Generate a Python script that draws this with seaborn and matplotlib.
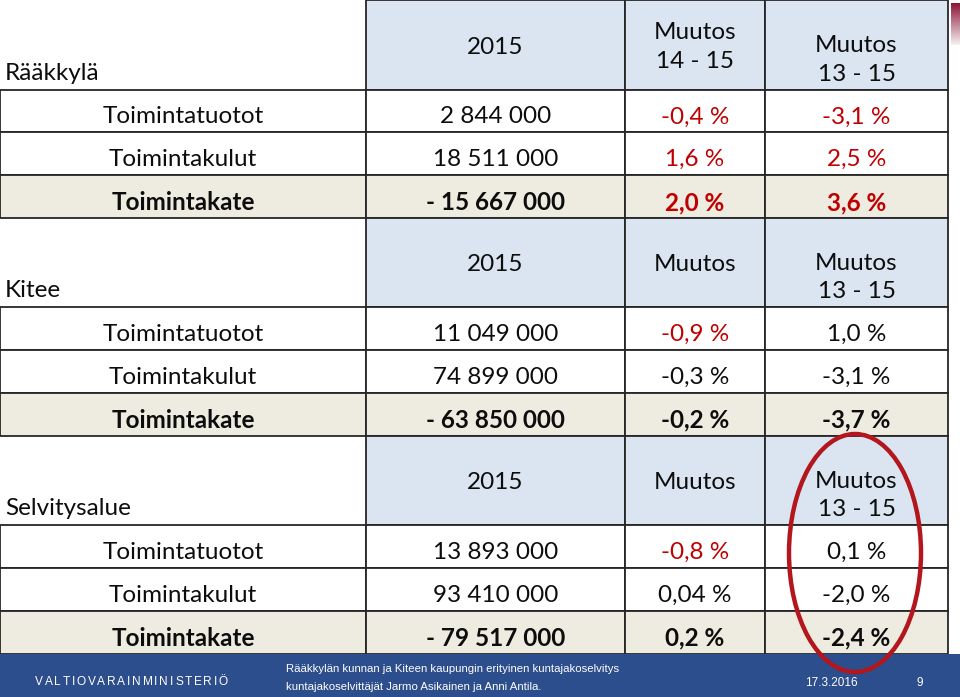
import numpy as np
import matplotlib.pyplot as plt
import seaborn as sns
from matplotlib.patches import Rectangle, Ellipse

# taulukon sisältö
sections = ["Rääkkylä", "Kitee", "Selvitysalue"]
row_labels = ["Toimintatuotot", "Toimintakulut", "Toimintakate"]
headers = [
    ["2015", "Muutos\n14 - 15", "Muutos\n13 - 15"],
    ["2015", "Muutos", "Muutos\n13 - 15"],
    ["2015", "Muutos", "Muutos\n13 - 15"],
]
values_2015 = [
    ["2 844 000", "18 511 000", "- 15 667 000"],
    ["11 049 000", "74 899 000", "- 63 850 000"],
    ["13 893 000", "93 410 000", "- 79 517 000"],
]
change_a = [
    ["-0,4 %", "1,6 %", "2,0 %"],
    ["-0,9 %", "-0,3 %", "-0,2 %"],
    ["-0,8 %", "0,04 %", "0,2 %"],
]
change_b = [
    ["-3,1 %", "2,5 %", "3,6 %"],
    ["1,0 %", "-3,1 %", "-3,7 %"],
    ["0,1 %", "-2,0 %", "-2,4 %"],
]
red_a = [[1, 1, 1], [1, 0, 0], [1, 0, 0]]
red_b = [[1, 1, 1], [0, 0, 0], [0, 0, 0]]

footer_ministry = "VALTIOVARAINMINISTERIÖ"
footer_lines = ["Rääkkylän kunnan ja Kiteen kaupungin erityinen kuntajakoselvitys",
                "kuntajakoselvittäjät Jarmo Asikainen ja Anni Antila."]
footer_date = "17.3.2016"
footer_page = "9"

# asettelu (pikseleinä)
W, H = 960, 697
col_edges = [0, 366, 625, 765, 948]
header_h = 89.5
row_h = 42.8
sec_h = header_h + 3 * row_h

HEAD_BLUE = "#dbe5f1"
BEIGE = "#eeece1"
RED = "#c00000"
INK = "#0d0d0d"
LINE = "#262626"
FOOT = "#2d4e8c"
FOOT_FONT = ['Liberation Sans Narrow', 'Liberation Sans', 'DejaVu Sans']

sns.set_theme(style="white")
plt.rcParams['font.family'] = ['Lato', 'DejaVu Sans']

fig = plt.figure(figsize=(W / 100, H / 100), dpi=100)
ax = fig.add_axes([0, 0, 1, 1])
ax.set_xlim(0, W)
ax.set_ylim(H, 0)
ax.axis('off')

fs = 17.5
lw = 1.3

for s, name in enumerate(sections):
    top = s * sec_h
    # otsikkosolut
    for c in range(3):
        x0, x1 = col_edges[c + 1], col_edges[c + 2]
        ax.add_patch(Rectangle((x0, top), x1 - x0, header_h, facecolor=HEAD_BLUE,
                               edgecolor=LINE, lw=lw, zorder=1))
        yy = top + 60 if c == 2 else top + 47
        ax.text((x0 + x1) / 2, yy, headers[s][c], ha='center', va='center', fontsize=fs,
                linespacing=1.42, color=INK, zorder=3)
    ax.text(5, top + 73, name, ha='left', va='center', fontsize=fs, color=INK, zorder=3)

    # datarivit
    for r, lab in enumerate(row_labels):
        y0 = top + header_h + r * row_h
        face = BEIGE if r == 2 else 'white'
        weight = 'bold' if r == 2 else 'normal'
        for c in range(4):
            x0, x1 = col_edges[c], col_edges[c + 1]
            ax.add_patch(Rectangle((x0, y0), x1 - x0, row_h, facecolor=face,
                                   edgecolor=LINE, lw=lw, zorder=1))
        cells = [lab, values_2015[s][r], change_a[s][r], change_b[s][r]]
        colors = [INK, INK,
                  RED if red_a[s][r] else INK,
                  RED if red_b[s][r] else INK]
        for c in range(4):
            x0, x1 = col_edges[c], col_edges[c + 1]
            ax.text((x0 + x1) / 2, y0 + row_h / 2 + 6, cells[c], ha='center', va='center',
                    fontsize=fs, fontweight=weight, color=colors[c], zorder=3)

# alapalkki
ax.add_patch(Rectangle((0, 654), W, H - 654, facecolor=FOOT, edgecolor='none', zorder=2))

# harvennettu ministeriön nimi: kirjaimet tasaisin välein
renderer = fig.canvas.get_renderer()
letters = []
widths = []
for ch in footer_ministry:
    t = ax.text(0, 682, ch, ha='left', va='center', fontsize=8.6, color='white',
                family=FOOT_FONT, zorder=4)
    widths.append(t.get_window_extent(renderer).width)
    letters.append(t)
gap = (193 - sum(widths)) / (len(letters) - 1)
x = 35
for t, w in zip(letters, widths):
    t.set_x(x)
    x += w + gap

for i, line in enumerate(footer_lines):
    ax.text(286, 669 + i * 18, line, ha='left', va='center', fontsize=8.2, color='white',
            family=FOOT_FONT, zorder=4)
ax.text(805, 683, footer_date, ha='left', va='center', fontsize=8.5, color='white',
        family=FOOT_FONT, zorder=4)
ax.text(920, 683, footer_page, ha='center', va='center', fontsize=8.5, color='white',
        family=FOOT_FONT, zorder=4)

# oikean yläkulman merkki
grad = np.linspace(1, 0, 50).reshape(-1, 1)
ax.imshow(grad, extent=(951, 960, 45, 3), cmap=sns.light_palette("#8e1538", as_cmap=True),
          aspect='auto', zorder=2)

# punainen korostusellipsi
ax.add_patch(Ellipse((855, 553), 132, 238, facecolor='none', edgecolor='#b3161c',
                     lw=3.2, zorder=5))

ax.set_xlim(0, W)
ax.set_ylim(H, 0)
fig.savefig("out.png", dpi=100)
